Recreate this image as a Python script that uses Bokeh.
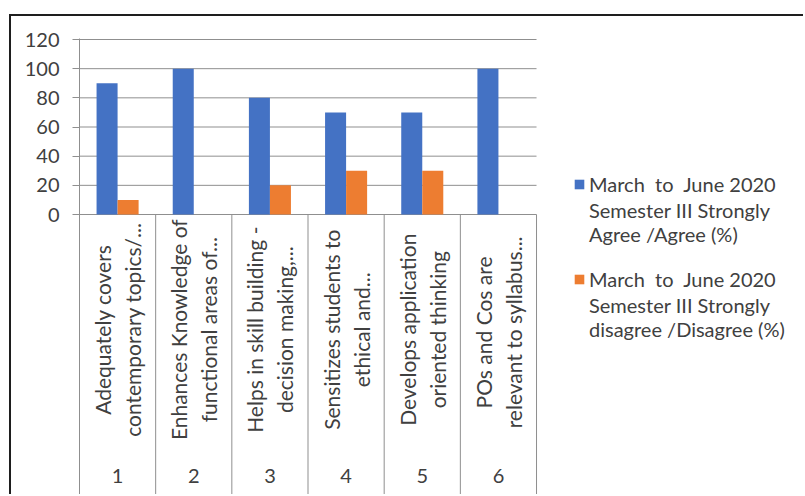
import math
from bokeh.plotting import figure
from bokeh.models import FixedTicker, Legend, LegendItem
from bokeh.core.properties import value
from bokeh.embed import file_html
from bokeh.resources import INLINE

# ---- data ----
categories = [1, 2, 3, 4, 5, 6]
category_labels = [
    "Adequately covers\ncontemporary topics/...",
    "Enhances Knowledge of\nfunctional areas of...",
    "Helps in skill building -\ndecision making,...",
    "Sensitizes students to\nethical and...",
    "Develops application\noriented thinking",
    "POs  and Cos are\nrelevant to  syllabus...",
]
agree = [90, 100, 80, 70, 70, 100]
disagree = [10, 0, 20, 30, 30, 0]
series_names = [
    "March  to  June 2020\nSemester III Strongly\nAgree /Agree (%)",
    "March  to  June 2020\nSemester III Strongly\ndisagree /Disagree (%)",
]
y_ticks = [0, 20, 40, 60, 80, 100, 120]

BLUE = "#4472C4"
ORANGE = "#ED7D31"
GRID = "#8f8f8f"
TXT = "#404040"
FONT = "Lato"
FS = "20px"

PX_PER_CAT = 76.17
X0 = categories[0] - 0.5
X1 = categories[-1] + 0.5
Y_BOTTOM = -192.0

p = figure(
    width=794, height=480,
    x_range=(X0, X0 + 726 / PX_PER_CAT), y_range=(Y_BOTTOM, 120.69),
    output_backend="svg", toolbar_location=None,
    min_border_left=68, min_border_right=0, min_border_top=22, min_border_bottom=2,
)
p.styles = {
    "margin-left": "9px", "margin-top": "14px",
    "border-left": "2px solid #1e1e1e", "border-top": "2px solid #1e1e1e",
}
p.outline_line_color = None
p.background_fill_color = "white"
p.border_fill_color = "white"

# axes
p.xaxis.visible = False
p.xgrid.visible = False
p.ygrid.visible = False
yax = p.yaxis[0]
yax.ticker = FixedTicker(ticks=y_ticks)
yax.axis_line_color = GRID
yax.major_tick_line_color = GRID
yax.major_tick_out = 7
yax.major_tick_in = 0
yax.minor_tick_line_color = None
yax.major_label_standoff = 13
yax.major_label_text_font = FONT
yax.major_label_text_font_size = FS
yax.major_label_text_color = TXT

# horizontal gridlines limited to the category area
p.segment(x0=[X0] * len(y_ticks), x1=[X1] * len(y_ticks), y0=y_ticks, y1=y_ticks,
          line_color=GRID, line_width=1)

# bars
off = 0.138
r1 = p.vbar(x=[c - off for c in categories], top=agree, width=0.276,
            fill_color=BLUE, line_color=None)
r2 = p.vbar(x=[c + off for c in categories], top=disagree, width=0.276,
            fill_color=ORANGE, line_color=None)

# category separators in the label area
bounds = [c - 0.5 for c in categories] + [categories[-1] + 0.5]
p.segment(x0=bounds, x1=bounds, y0=[0] * len(bounds), y1=[Y_BOTTOM] * len(bounds),
          line_color=GRID, line_width=1)

# category labels
p.text(x=categories, y=[-79] * len(categories), text=category_labels, angle=math.pi / 2,
       text_align="center", text_baseline="middle", text_font=value(FONT),
       text_font_size="21px", text_color=TXT, text_line_height=1.2)
p.text(x=categories, y=[-179] * len(categories), text=[str(c) for c in categories],
       text_align="center", text_baseline="middle", text_font=value(FONT),
       text_font_size=FS, text_color=TXT)


def make_legend(name, renderer, loc):
    first, rest = name.split("\n", 1)
    lg = Legend(items=[LegendItem(label=first, renderers=[renderer]),
                       LegendItem(label=rest, renderers=[])],
                location=loc)
    lg.border_line_color = None
    lg.background_fill_alpha = 0
    lg.label_text_font = FONT
    lg.label_text_font_size = FS
    lg.label_text_color = TXT
    lg.label_text_line_height = 1.6
    lg.glyph_width = 12
    lg.glyph_height = 12
    lg.label_standoff = 4
    lg.spacing = 2
    lg.padding = 0
    lg.margin = 0
    return lg


p.add_layout(make_legend(series_names[0], r1, (494, 248)), "center")
p.add_layout(make_legend(series_names[1], r2, (494, 153)), "center")

open("out.html", "w").write(file_html(p, INLINE))
